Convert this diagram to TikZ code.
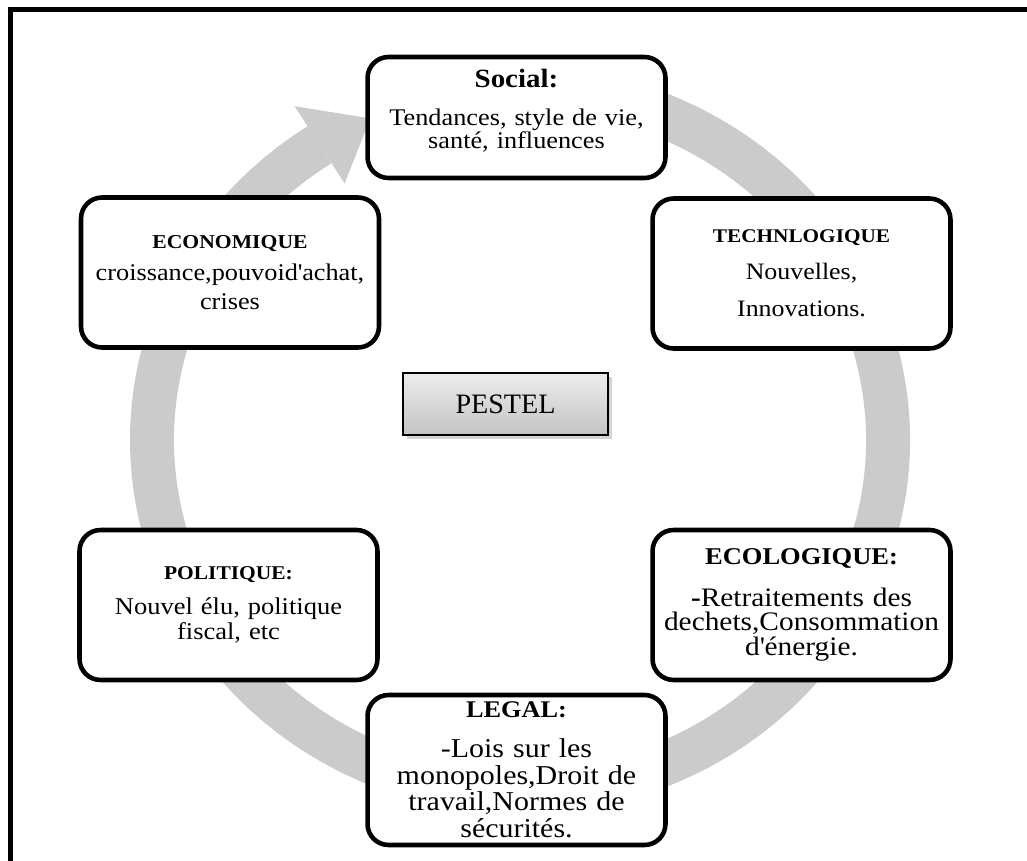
\documentclass[tikz,border=0pt]{standalone}
\usepackage{fontspec}
\setmainfont{Liberation Serif}[FakeStretch=1.1]
\newfontfamily\keyfont{Liberation Serif}
\usetikzlibrary{calc,shadows}
\definecolor{ink}{HTML}{000000}
\definecolor{ringgray}{HTML}{CBCBCB}
\definecolor{keytop}{HTML}{EDEDED}
\definecolor{keybot}{HTML}{C3C3C3}
\lineskiplimit=-100pt
\tikzset{
  frame/.style={draw=ink, line width=2.8pt},
  band/.style={draw=ringgray, line width=0.88cm},
  head/.style={fill=ringgray, draw=none},
  factor/.style={draw=ink, line width=2.6pt, rounded corners=0.42cm, fill=white,
                 align=center, inner sep=0pt, text width=5.8cm,
                 minimum width=5.96cm, minimum height=3.0cm},
  key/.style={draw=ink, line width=1pt, top color=keytop, bottom color=keybot,
              drop shadow={opacity=0.35}, minimum width=4.1cm, minimum height=1.25cm,
              inner sep=0pt, font=\keyfont\fontsize{16}{18}\selectfont},
}
\newcommand{\ftitle}[2]{{\fontsize{#1}{#1}\selectfont\bfseries #2}}

\begin{document}
\begin{tikzpicture}[x=0.02cm, y=-0.02cm]
  \useasboundingbox (0,0) rectangle (1027,861);
  % page frame
  \draw[frame] (10.5,9.5) rectangle (1080,920);
  % circular arrow
  \coordinate (c) at (520,440);
  \draw[band] (c) ++(-100:368 and 352) arc[start angle=-100, end angle=237, x radius=368, y radius=352];
  \fill[head] ($(c)+(-123:414 and 398)$) -- ($(c)+(-114:368 and 352)$) -- ($(c)+(-123:322 and 306)$) -- cycle;
  % centre
  \node[key] (pestel) at (505.5,404) {PESTEL};
  % factors
  \node[factor, minimum height=2.42cm, font=\fontsize{13.6}{13}\selectfont] (soc) at (516.5,117.5)
    {\ftitle{15}{Social:}\\[9pt] Tendances, style de vie,\\ santé, influences\\[-3pt]\mbox{}};
  \node[factor, font=\fontsize{13.6}{16.4}\selectfont] (eco) at (230,272.5)
    {\ftitle{11.2}{ECONOMIQUE}\\[2.3pt] croissance,pouvoid\textquotesingle achat,\\ crises};
  \node[factor, font=\fontsize{13.4}{21}\selectfont] (tech) at (801.5,273.5)
    {\ftitle{11}{TECHNLOGIQUE}\\ Nouvelles,\\ Innovations.};
  \node[factor, font=\fontsize{13.7}{14.2}\selectfont] (pol) at (228.5,605)
    {\ftitle{11.1}{POLITIQUE:}\\[5.6pt] Nouvel élu, politique\\ fiscal, etc};
  \node[factor, font=\fontsize{15.2}{14.2}\selectfont] (ecol) at (801.5,605)
    {\ftitle{13.7}{ECOLOGIQUE:}\\[9.6pt] \textbf{-}Retraitements des\\ dechets,Consommation\\ d\textquotesingle énergie.};
  \node[factor, font=\fontsize{15.5}{15.1}\selectfont] (leg) at (516.5,770)
    {\ftitle{13.6}{LEGAL:}\\[7.6pt] -Lois sur les\\ monopoles,Droit de\\ travail,Normes de\\ sécurités.};
\end{tikzpicture}
\end{document}
